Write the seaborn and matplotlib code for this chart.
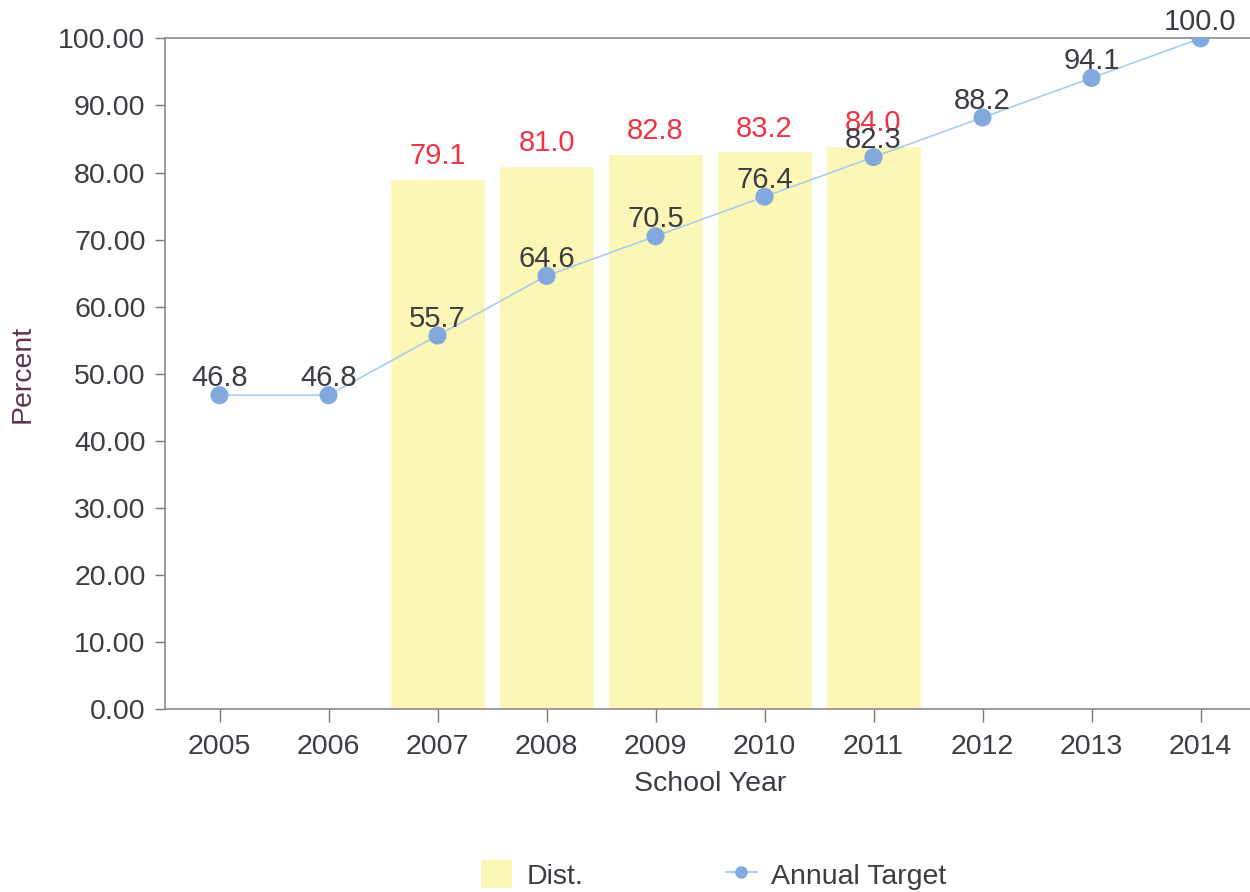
import numpy as np
import pandas as pd
import matplotlib
matplotlib.use("Agg")
import matplotlib.pyplot as plt
import seaborn as sns
from matplotlib.patches import Patch
from matplotlib.lines import Line2D

# data
years = [2005, 2006, 2007, 2008, 2009, 2010, 2011, 2012, 2013, 2014]
dist_years = [2007, 2008, 2009, 2010, 2011]
dist_values = [79.1, 81.0, 82.8, 83.2, 84.0]
target_values = [46.8, 46.8, 55.7, 64.6, 70.5, 76.4, 82.3, 88.2, 94.1, 100.0]
y_ticks = [0, 10, 20, 30, 40, 50, 60, 70, 80, 90, 100]

sns.set_theme(style="white")
plt.rcParams['font.family'] = ['Liberation Sans', 'DejaVu Sans']

bar_color = "#fcf7b6"
line_color = "#a9cdea"
marker_color = "#82a9dd"
text_color = "#3c3c44"
red_color = "#ee3344"

fig = plt.figure(figsize=(12.5, 8.92), dpi=100)
ax = fig.add_axes([0.132, 0.205, 0.872, 0.752])

# bars only for the years that have district values
df_bar = pd.DataFrame({"year": dist_years, "value": dist_values})
sns.barplot(data=df_bar, x="year", y="value", order=years, color=bar_color,
            saturation=1, width=0.87, ax=ax)

pos = np.arange(len(years))
sns.lineplot(x=pos, y=target_values, color=line_color, linewidth=1.2, ax=ax)
sns.scatterplot(x=pos, y=target_values, color=marker_color, s=170,
                edgecolor="none", zorder=4, ax=ax)

# value labels
order_index = {y: i for i, y in enumerate(years)}
for yr, v in zip(dist_years, dist_values):
    ax.annotate(f"{v:.1f}", (order_index[yr], v), xytext=(0, 6),
                textcoords="offset points", ha="center", va="bottom",
                fontsize=21, color=red_color)
for i, v in enumerate(target_values):
    ax.annotate(f"{v:.1f}", (i, v), xytext=(0, 2),
                textcoords="offset points", ha="center", va="bottom",
                fontsize=21, color=text_color, zorder=5)

ax.set_xlim(-0.5, len(years) - 0.5)
ax.set_ylim(0, 100)
ax.set_yticks(y_ticks)
ax.set_yticklabels([f"{t:.2f}" for t in y_ticks])
ax.set_xticks(pos)
ax.set_xticklabels([str(y) for y in years])
ax.tick_params(axis="both", labelsize=20.5, colors="#777777", labelcolor=text_color,
               width=1, direction="out", bottom=True, left=True)
ax.tick_params(axis="x", length=9, pad=9)
ax.tick_params(axis="y", length=7, pad=7)
ax.set_xlabel("School Year", fontsize=20.5, color=text_color, labelpad=8)
ax.set_ylabel("Percent", fontsize=20.5, color="#5e3252", labelpad=16)

for side in ["left", "top", "bottom", "right"]:
    ax.spines[side].set_color("#8a8a8a")
    ax.spines[side].set_linewidth(1.2)

handles = [
    Patch(facecolor=bar_color, edgecolor="none", label="Dist."),
    Line2D([0], [0], color=line_color, marker="o", markersize=9,
           markerfacecolor=marker_color, markeredgecolor="none", label="Annual Target"),
]
fig.legend(handles=handles, loc="center", bbox_to_anchor=(0.571, 0.019), ncol=2,
           frameon=False, fontsize=20.5, handlelength=1.1, handleheight=1.1,
           handletextpad=0.5, columnspacing=5.0, labelcolor=text_color)

fig.savefig("out.png", dpi=100)
